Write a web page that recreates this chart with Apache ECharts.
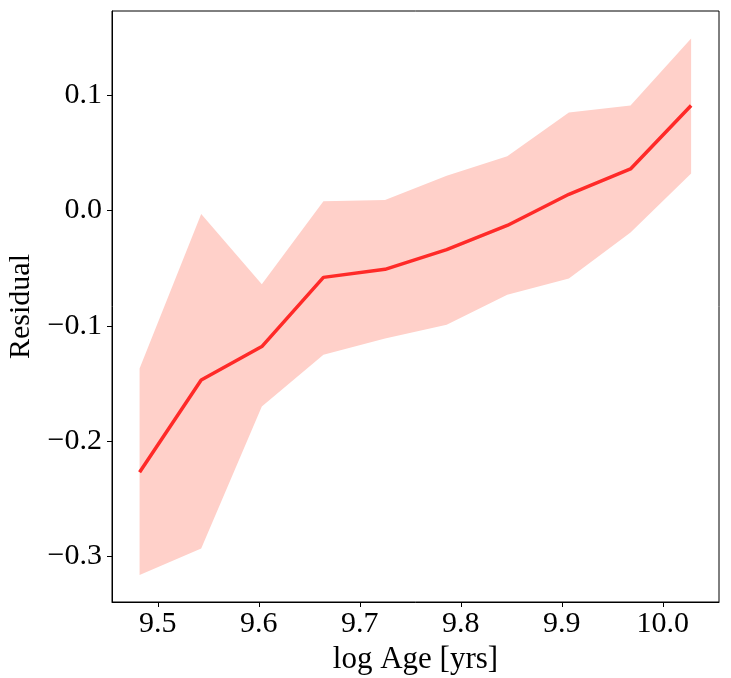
<!DOCTYPE html>
<html>
<head>
<meta charset="utf-8">
<script src="https://cdn.jsdelivr.net/npm/echarts@6/dist/echarts.min.js"></script>
<style>
html,body{margin:0;padding:0;background:#fff;}
#chart{width:731px;height:678px;}
</style>
</head>
<body>
<div id="chart"></div>
<script>
// Data
const logAge = [9.482, 9.543, 9.603, 9.664, 9.725, 9.786, 9.846, 9.907, 9.968, 10.028];
const meanResidual = [-0.227, -0.147, -0.118, -0.058, -0.051, -0.034, -0.013, 0.014, 0.036, 0.091];
const upperResidual = [-0.137, -0.003, -0.064, 0.008, 0.009, 0.030, 0.047, 0.085, 0.091, 0.149];
const lowerResidual = [-0.316, -0.293, -0.170, -0.125, -0.111, -0.099, -0.073, -0.059, -0.019, 0.032];
const xTicks = [9.5, 9.6, 9.7, 9.8, 9.9, 10.0];
const yTicks = [-0.3, -0.2, -0.1, 0.0, 0.1];

const chart = echarts.init(document.getElementById('chart'), null, {renderer: 'canvas'});
const serif = '"Liberation Serif", "DejaVu Serif", serif';
const fmt = v => (v < 0 ? '\u2212' : '') + Math.abs(v).toFixed(1);

const bandData = logAge.map((x, i) => [x, lowerResidual[i], upperResidual[i]]);
const lineData = logAge.map((x, i) => [x, meanResidual[i]]);

chart.setOption({
  animation: false,
  backgroundColor: '#fff',
  grid: {
    left: 112, right: 12, top: 11, bottom: 76,
    outerBoundsMode: 'none',
    containLabel: false,
    show: true, borderColor: '#000', borderWidth: 1, backgroundColor: 'transparent'
  },
  xAxis: {
    type: 'value',
    min: 9.4547, max: 10.0556,
    name: 'log Age [yrs]',
    nameLocation: 'middle',
    nameGap: 35,
    nameTextStyle: {fontFamily: serif, fontSize: 31, color: '#000'},
    axisLine: {show: true, onZero: false, lineStyle: {color: '#000', width: 1}},
    axisTick: {show: true, inside: false, length: 5, lineStyle: {color: '#000'}, customValues: xTicks},
    axisLabel: {
      show: true, margin: 7, fontFamily: serif, fontSize: 30, color: '#000',
      customValues: xTicks, formatter: v => v.toFixed(1)
    },
    splitLine: {show: false}
  },
  yAxis: {
    type: 'value',
    min: -0.3394, max: 0.1729,
    name: 'Residual',
    nameLocation: 'middle',
    nameGap: 76,
    nameRotate: 90,
    nameTextStyle: {fontFamily: serif, fontSize: 30, color: '#000'},
    axisLine: {show: true, onZero: false, lineStyle: {color: '#000', width: 1}},
    axisTick: {show: true, inside: false, length: 5, lineStyle: {color: '#000'}, customValues: yTicks},
    axisLabel: {
      show: true, margin: 10, fontFamily: serif, fontSize: 30, color: '#000',
      customValues: yTicks, formatter: fmt
    },
    splitLine: {show: false}
  },
  series: [
    {
      type: 'custom',
      name: 'band',
      data: bandData,
      encode: {x: 0, y: [1, 2]},
      clip: true,
      z: 1,
      renderItem: function (params, api) {
        if (params.dataIndex !== 0) return;
        const pts = [];
        for (let i = 0; i < bandData.length; i++) {
          pts.push(api.coord([bandData[i][0], bandData[i][2]]));
        }
        for (let i = bandData.length - 1; i >= 0; i--) {
          pts.push(api.coord([bandData[i][0], bandData[i][1]]));
        }
        return {type: 'polygon', shape: {points: pts}, style: {fill: '#ffd0c9', stroke: null}};
      }
    },
    {
      type: 'line',
      name: 'mean',
      data: lineData,
      showSymbol: false,
      z: 3,
      lineStyle: {color: '#ff2a28', width: 3.5},
      itemStyle: {color: '#ff2a28'}
    }
  ]
});
</script>
</body>
</html>
